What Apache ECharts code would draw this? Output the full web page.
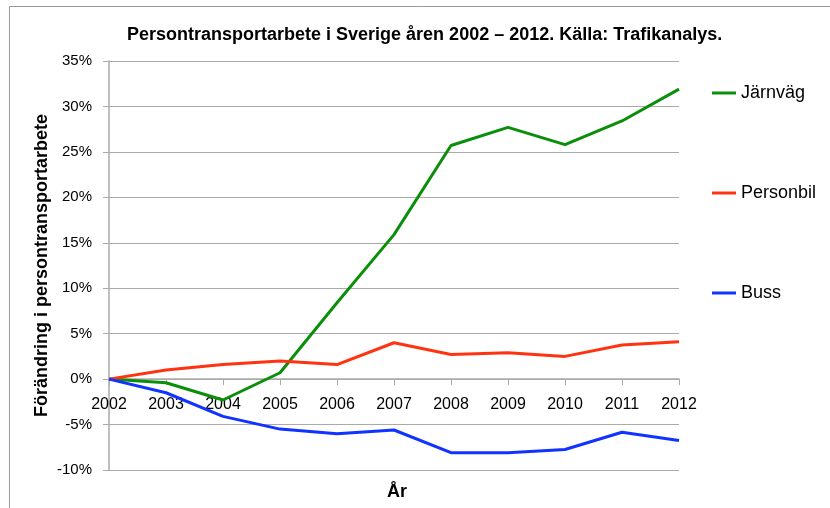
<!DOCTYPE html>
<html>
<head>
<meta charset="utf-8">
<script src="https://cdn.jsdelivr.net/npm/echarts@6/dist/echarts.min.js"></script>
<style>html,body{margin:0;padding:0;background:#fff}#c{width:830px;height:508px}</style>
</head>
<body>
<div id="c"></div>
<script>
const years = ['2002','2003','2004','2005','2006','2007','2008','2009','2010','2011','2012'];
const jarnvag = [0, -0.4, -2.3, 0.7, 8.4, 15.9, 25.7, 27.7, 25.8, 28.4, 31.9];
const personbil = [0, 1.0, 1.6, 2.0, 1.6, 4.0, 2.7, 2.9, 2.5, 3.75, 4.1];
const buss = [0, -1.5, -4.1, -5.5, -6.0, -5.6, -8.1, -8.1, -7.75, -5.85, -6.75];
const seriesNames = ['Järnväg', 'Personbil', 'Buss'];
const colors = ['#0b8f0b', '#ff3311', '#1133ff'];
const titleText = 'Persontransportarbete i Sverige åren 2002 – 2012. Källa: Trafikanalys.';
const yName = 'Förändring i persontransportarbete';
const xName = 'År';

const FONT = 'Liberation Sans';
const chart = echarts.init(document.getElementById('c'), null, {renderer: 'canvas'});
const data = [jarnvag, personbil, buss];
const Y_MIN = -10, Y_MAX = 35;
const gridTop = 61, gridBottom = 38, H = 508;
const plotH = H - gridTop - gridBottom;
const zeroOffset = -plotH * (0 - Y_MIN) / (Y_MAX - Y_MIN);
chart.setOption({
  animation: false,
  backgroundColor: '#fff',
  title: [
    {text: titleText, left: 122, top: 21, textStyle: {fontFamily: FONT, fontSize: 18, fontWeight: 'bold', color: '#000'}},
    {text: xName, left: 382, top: 478, textStyle: {fontFamily: FONT, fontSize: 18, fontWeight: 'bold', color: '#000'}}
  ],
  graphic: [
    {type: 'line', shape: {x1: 9.5, y1: 6.5, x2: 830, y2: 6.5}, style: {stroke: '#999', lineWidth: 1}},
    {type: 'line', shape: {x1: 9.5, y1: 6.5, x2: 9.5, y2: 508}, style: {stroke: '#999', lineWidth: 1}}
  ],
  grid: {left: 109, right: 151, top: gridTop, bottom: gridBottom, containLabel: false},
  legend: {
    orient: 'vertical', left: 707, top: 79, itemGap: 82,
    itemWidth: 24, itemHeight: 14,
    textStyle: {fontFamily: FONT, fontSize: 18, color: '#000'},
    data: seriesNames.map(n => ({name: n, icon: 'path://M0,6 L24,6 L24,9 L0,9 Z'}))
  },
  xAxis: {
    type: 'category', data: years, boundaryGap: false,
    offset: zeroOffset,
    axisLine: {onZero: false, lineStyle: {color: '#aaa', width: 1.5}},
    axisTick: {show: true, length: 6, lineStyle: {color: '#aaa'}},
    axisLabel: {fontFamily: FONT, fontSize: 16, color: '#000', margin: 17}
  },
  yAxis: {
    type: 'value', min: Y_MIN, max: Y_MAX, interval: 5,
    name: yName, nameLocation: 'middle', nameGap: 58, nameRotate: 90,
    nameMoveOverlap: false,
    nameTextStyle: {fontFamily: FONT, fontSize: 18, fontWeight: 'bold', color: '#000'},
    axisLine: {show: true, lineStyle: {color: '#aaa', width: 1.5}},
    axisTick: {show: true, length: 6, lineStyle: {color: '#aaa'}},
    axisLabel: {fontFamily: FONT, fontSize: 15, color: '#000', margin: 17, formatter: v => v + '%'},
    splitLine: {lineStyle: {color: '#aaa', width: 1}}
  },
  series: seriesNames.map((n, i) => ({
    name: n, type: 'line', data: data[i], symbol: 'none',
    lineStyle: {color: colors[i], width: 3}, itemStyle: {color: colors[i]}
  }))
});
</script>
</body>
</html>
